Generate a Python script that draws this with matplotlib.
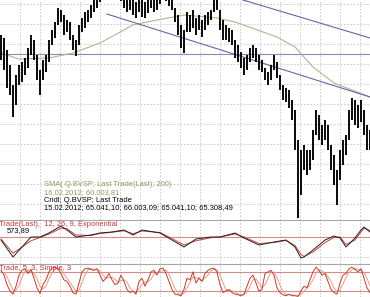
import numpy as np
import matplotlib
matplotlib.use("Agg")
import matplotlib.pyplot as plt

plt.rcParams["font.family"] = ["Liberation Sans", "DejaVu Sans"]

# daily bars (price points)
highs = [66500, 66200, 65000, 63500, 61500, 62500, 63500, 63800, 64200, 65200,
         66500, 66000, 64500, 63000, 64000, 64500, 66000, 67000, 67800, 69200,
         69000, 68500, 68000, 67800, 66500, 66000, 67500, 68200, 68800, 69000,
         69500, 70000, 70500, 70800, 71000, 71300, 71500, 71200, 71000, 70800,
         70700, 70500, 70200, 70000, 70300, 69800, 70000, 70100, 69800, 70000,
         70300, 70200, 70100, 70400, 70800, 70600, 70300, 70000, 69200, 68500,
         67500, 67000, 68800, 68500, 69000, 68200, 68500, 68000, 68500, 68800,
         69000, 70000, 70300, 69000, 68000, 67500, 67200, 67000, 66000, 65500,
         64800, 64200, 64500, 65200, 65500, 65200, 64500, 64000, 63200, 62800,
         63500, 64500, 63800, 62500, 61500, 61200, 61000, 60000, 59000, 56000,
         55000, 55500, 55000, 55000, 57000, 59000, 58500, 57500, 58000, 57500,
         55500, 54500, 53000, 55000, 56000, 56500, 59000, 60200, 60000, 59500,
         60000, 59000, 57500, 57000]
lows = [64000, 63000, 61200, 60500, 58300, 59500, 61500, 61800, 62500, 63200,
        64500, 64000, 62000, 60500, 62000, 62800, 63800, 65500, 66200, 67500,
        67800, 66500, 66800, 66000, 65000, 64400, 65500, 66800, 67200, 67800,
        68200, 68800, 69200, 69800, 70200, 70400, 70600, 70300, 70100, 70000,
        69900, 69200, 68800, 69000, 68500, 68200, 68800, 68300, 68200, 68700,
        69200, 68800, 69000, 69600, 70000, 69900, 69400, 69000, 67800, 66500,
        65200, 64700, 66800, 66800, 67200, 66500, 67000, 66300, 67000, 67500,
        68000, 68800, 69000, 67000, 66000, 66000, 65800, 65500, 64200, 63800,
        63200, 62500, 63000, 63800, 64200, 63800, 63000, 62800, 62000, 61500,
        62000, 63000, 62200, 61000, 60000, 59800, 59200, 58000, 55000, 48200,
        50500, 53000, 52500, 53000, 54000, 56500, 56000, 55500, 56000, 55000,
        53000, 51500, 49500, 52000, 53500, 54500, 56000, 58000, 57500, 57200,
        57800, 56500, 55000, 55000]

# SMA(200) read at a few bars
sma_idx = [0, 6, 16, 24, 33, 44, 52, 61, 72, 78, 92, 98, 104, 111, 123]
sma_val = [64700, 64100, 64200, 64700, 65700, 67500, 68000, 68500, 68200,
           67800, 66300, 65300, 63300, 61700, 60300]

# drawn lines: (bar, price) end points
trend_low = ([35.3, 123], [68600, 60300])
trend_high = ([70, 123], [70960, 66200])
hline_level = 64600

# MACD panel
macd_idx = [0, 4, 10, 13, 16, 20, 22, 25, 30, 33, 37, 41, 44, 47, 53, 57, 61,
            65, 70, 73, 78, 81, 86, 91, 95, 98, 100, 101, 104, 108, 111, 113,
            115, 118, 120, 121, 123]
macd_val = [-120, -800, 0, 0, 160, 440, 280, 0, 80, 160, 200, 280, 80, 280,
            160, -120, -400, -80, 0, 0, 160, -40, -320, -200, -120, -400, -840,
            -800, -520, -120, 40, -40, -400, -40, 280, 400, 200]
signal_val = [-80, -650, -150, -20, 120, 350, 330, 80, 60, 140, 190, 250, 130,
              240, 180, -60, -320, -150, -30, 0, 120, 0, -260, -220, -140, -340,
              -700, -780, -600, -220, -20, 0, -300, -120, 200, 350, 260]

# Stochastic panel
stoch_k = [85, 70, 40, 20, 10, 35, 70, 85, 90, 75,
           88, 60, 30, 12, 40, 55, 80, 92, 95, 90,
           75, 55, 50, 35, 15, 10, 45, 80, 90, 92,
           88, 85, 90, 70, 50, 60, 75, 55, 40, 45,
           70, 50, 25, 15, 20, 10, 50, 60, 35, 55,
           80, 85, 70, 90, 92, 75, 50, 25, 10, 8,
           5, 25, 60, 55, 80, 45, 60, 50, 75, 85,
           90, 92, 80, 40, 15, 20, 25, 15, 10, 8,
           5, 10, 35, 60, 70, 45, 20, 25, 75, 80,
           85, 70, 30, 15, 8, 5, 10, 5, 5, 3,
           20, 35, 30, 55, 80, 95, 85, 70, 75, 50,
           25, 15, 10, 45, 70, 75, 90, 95, 88, 80,
           90, 60, 30, 15]
stoch_d = [80, 78, 65, 43, 23, 22, 38, 63, 82, 83,
           84, 74, 59, 34, 27, 36, 58, 76, 89, 92,
           87, 73, 60, 47, 33, 20, 23, 45, 72, 87,
           90, 88, 88, 82, 70, 60, 62, 63, 57, 47,
           52, 55, 48, 30, 20, 15, 27, 40, 48, 50,
           57, 73, 78, 82, 84, 86, 72, 50, 28, 14,
           8, 13, 30, 47, 65, 60, 62, 52, 62, 70,
           83, 89, 87, 71, 45, 25, 20, 20, 17, 11,
           8, 8, 17, 35, 55, 58, 45, 30, 40, 60,
           80, 78, 62, 38, 18, 9, 8, 7, 7, 4,
           9, 19, 28, 40, 55, 77, 87, 83, 77, 65,
           50, 30, 17, 23, 42, 63, 78, 87, 91, 88,
           86, 77, 60, 35]

W, H = 370, 297
fig = plt.figure(figsize=(W / 100, H / 100), dpi=100)
fig.patch.set_facecolor("white")

ax = fig.add_axes([0, (H - 220) / H, 1, 220 / H])
ax_m = fig.add_axes([0, (H - 264) / H, 1, 44 / H])
ax_s = fig.add_axes([0, 0, 1, 33 / H])

xlim = (-1 / 3, 123)
grid_x = (np.arange(19.5, W, 20) - 1) / 3
grid_kw = dict(color="#c4c4c4", lw=0.6, linestyle=(0, (2, 2)))

for a in (ax, ax_m, ax_s):
    a.set_xlim(*xlim)
    a.set_xticks(grid_x)
    a.tick_params(length=0, labelbottom=False, labelleft=False)
    a.grid(axis="x", **grid_kw)
    for s in ("left", "right", "bottom"):
        a.spines[s].set_visible(False)
    a.spines["top"].set_color("#a8a8a8")
    a.spines["top"].set_linewidth(0.8)
    a.set_axisbelow(True)
ax.spines["top"].set_visible(False)

# main price panel
idx = np.arange(len(highs))
ax.set_ylim(48000, 70000)
ax.set_yticks(np.arange(49600, 70000, 2000))
ax.grid(axis="y", **grid_kw)
ax.axhline(hline_level, color="#8c8cb0", lw=0.8)
ax.plot(sma_idx, sma_val, color="#a9b98f", lw=0.8)
ax.plot(*trend_low, color="#6666a8", lw=0.8)
ax.plot(*trend_high, color="#6666a8", lw=0.8)
ax.vlines(idx, lows, highs, color="black", lw=1.35)

# MACD panel
ax_m.set_ylim(-1080, 680)
ax_m.set_yticks([-800])
ax_m.grid(axis="y", **grid_kw)
ax_m.axhline(0, color="#d88a8a", lw=0.8)
ax_m.plot(macd_idx, signal_val, color="#c84040", lw=0.7)
ax_m.plot(macd_idx, macd_val, color="#202020", lw=0.7)

# Stochastic panel
ax_s.set_ylim(1, 105)
ax_s.set_yticks([])
ax_s.axhline(80, color="#d88a8a", lw=0.8)
ax_s.axhline(20, color="#d88a8a", lw=0.8)
ax_s.plot(idx, stoch_d, color="#e89a88", lw=0.7)
ax_s.plot(idx, stoch_k, color="#b8402e", lw=0.7)

fs = 5.4
def label(x, y, s, color):
    fig.text(x / W, 1 - y / H, s, color=color, fontsize=fs, va="center", ha="left")

label(44, 185, "SMA( Q.BVSP; Last Trade(Last); 200)", "#8c9c5c")
label(44, 193, "16.02.2012; 60.003,81", "#8c9c5c")
label(44, 201, "Cndl; Q.BVSP; Last Trade", "black")
label(44, 208, "15.02.2012; 65.041,10; 66.003,09; 65.041,10; 65.308,49", "black")
label(-1, 225, "Trade(Last),  12, 26, 9, Exponential", "#c03838")
label(7, 231, "573,89", "black")
label(-1, 268, "Trade, 5, 3, Simple, 3", "#c03838")

fig.savefig("out.png", dpi=100, facecolor="white")
